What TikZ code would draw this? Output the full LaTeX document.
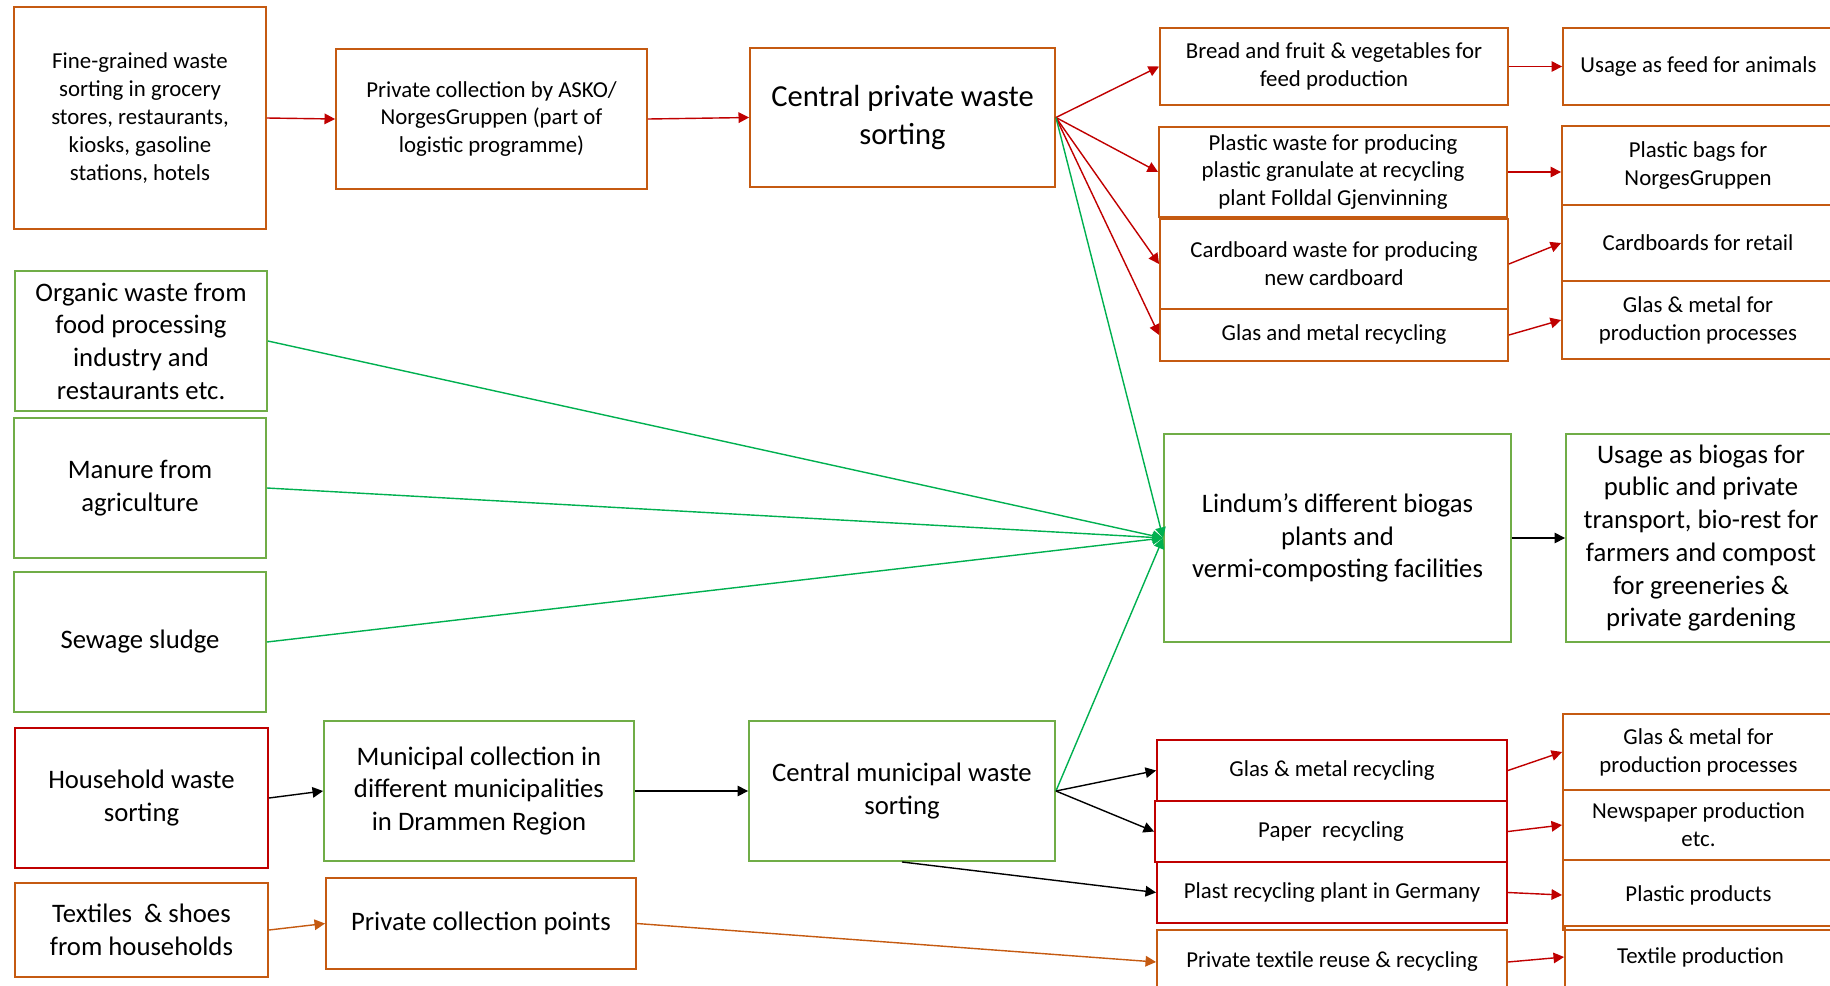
\documentclass[tikz,border=0pt]{standalone}
\usepackage{fontspec}
\setmainfont{Carlito}
\usetikzlibrary{positioning, arrows.meta}
\definecolor{boxorange}{HTML}{C55A11}
\definecolor{boxgreen}{HTML}{70AD47}
\definecolor{boxred}{HTML}{C00000}
\definecolor{flowred}{HTML}{C00000}
\definecolor{flowgreen}{HTML}{00B050}
\tikzset{
    stage/.style={
        draw,
        rectangle,
        align=center,
        line width=1.1pt,
        inner sep=2pt,
    },
    obox/.style={stage, draw=boxorange},
    gbox/.style={stage, draw=boxgreen},
    rbox/.style={stage, draw=boxred},
    txts/.style={font=\fontsize{13}{15.9}\selectfont},
    txtm/.style={font=\fontsize{15.2}{18.6}\selectfont},
    txtl/.style={font=\fontsize{17.4}{21.2}\selectfont},
    flow/.style={-{Triangle[length=6pt,width=6pt]}, line width=0.8pt},
    redflow/.style={flow, color=flowred},
    greenflow/.style={flow, color=flowgreen},
    orangeflow/.style={flow, color=boxorange},
    blackflow/.style={flow, color=black},
}

\begin{document}
\begin{tikzpicture}[x=0.02cm, y=-0.02cm]
   \useasboundingbox (0,0) rectangle (1830,985);
   \clip (0,0) rectangle (1830,985);
   \node[obox, txts, minimum width=5.04cm, minimum height=4.44cm] (fine) at (140,118) {Fine-grained waste\\sorting in grocery\\stores, restaurants,\\kiosks, gasoline\\stations, hotels};
   \node[obox, txts, minimum width=6.22cm, minimum height=2.80cm] (asko) at (491.5,119) {Private collection by ASKO/\\NorgesGruppen (part of\\logistic programme)};
   \node[obox, txtl, minimum width=6.10cm, minimum height=2.78cm] (cps) at (902.5,117.5) {Central private waste\\sorting};
   \node[obox, txts, minimum width=6.96cm, minimum height=1.54cm] (bread) at (1334,66.5) {Bread and fruit \& vegetables for\\feed production};
   \node[obox, txts, minimum width=5.42cm, minimum height=1.54cm] (feed) at (1698.5,66.5) {Usage as feed for animals};
   \node[obox, txts, minimum width=6.96cm, minimum height=1.80cm] (plwaste) at (1333,172) {Plastic waste for producing\\plastic granulate at recycling\\plant Folldal Gjenvinning};
   \node[obox, txts, minimum width=5.44cm, minimum height=1.58cm] (bags) at (1698,165.5) {Plastic bags for\\NorgesGruppen};
   \node[obox, txts, minimum width=6.96cm, minimum height=1.80cm] (cardboard) at (1334,264) {Cardboard waste for producing\\new cardboard};
   \node[obox, txts, minimum width=5.44cm, minimum height=1.52cm] (retail) at (1698,243) {Cardboards for retail};
   \node[obox, txts, minimum width=6.96cm, minimum height=1.04cm] (glasmet) at (1334,335) {Glas and metal recycling};
   \node[obox, txts, minimum width=5.44cm, minimum height=1.56cm] (glasprod) at (1698,320) {Glas \& metal for\\production processes};
   \node[gbox, txtm, minimum width=5.04cm, minimum height=2.80cm] (organic) at (141,341) {Organic waste from\\food processing\\industry and\\restaurants etc.};
   \node[gbox, txtm, minimum width=5.04cm, minimum height=2.80cm] (manure) at (140,488) {Manure from\\agriculture};
   \node[gbox, txtm, minimum width=5.04cm, minimum height=2.80cm] (sewage) at (140,642) {Sewage sludge};
   \node[gbox, txtm, minimum width=6.94cm, minimum height=4.16cm] (lindum) at (1337.5,538) {Lindum’s different biogas\\plants and\\vermi-composting facilities};
   \node[gbox, txtm, minimum width=5.40cm, minimum height=4.16cm] (biogas) at (1701,538) {Usage as biogas for\\public and private\\transport, bio-rest for\\farmers and compost\\for greeneries \&\\private gardening};
   \node[rbox, txtm, minimum width=5.06cm, minimum height=2.80cm] (household) at (141.5,798) {Household waste\\sorting};
   \node[gbox, txtm, minimum width=6.20cm, minimum height=2.80cm] (municipal) at (479,791) {Municipal collection in\\different municipalities\\in Drammen Region};
   \node[gbox, txtm, minimum width=6.12cm, minimum height=2.80cm] (cms) at (902,791) {Central municipal waste\\sorting};
   \node[rbox, txts, minimum width=7.00cm, minimum height=1.22cm] (glasmet2) at (1332,770.5) {Glas \& metal recycling};
   \node[rbox, txts, minimum width=7.04cm, minimum height=1.22cm] (paper) at (1331,831.5) {Paper\ \ recycling};
   \node[rbox, txts, minimum width=7.00cm, minimum height=1.22cm] (plast) at (1332,892.5) {Plast recycling plant in Germany};
   \node[obox, txts, minimum width=7.00cm, minimum height=1.28cm] (texreuse) at (1332,962) {Private textile reuse \& recycling};
   \node[obox, txts, minimum width=5.42cm, minimum height=1.52cm] (glasprod2) at (1698.5,752) {Glas \& metal for\\production processes};
   \node[obox, txts, minimum width=5.42cm, minimum height=1.40cm] (newspaper) at (1698.5,825) {Newspaper production\\etc.};
   \node[obox, txts, minimum width=5.42cm, minimum height=1.40cm] (plprod) at (1698.5,895) {Plastic products};
   \node[obox, txts, minimum width=5.42cm, minimum height=1.24cm] (texprod) at (1700.5,957) {Textile production};
   \node[obox, txtm, minimum width=5.06cm, minimum height=1.88cm] (textiles) at (141.5,930) {Textiles\ \ \& shoes\\from households};
   \node[obox, txtm, minimum width=6.20cm, minimum height=1.82cm] (pcp) at (481,923.5) {Private collection points};
   \draw[redflow] (fine.east) to (asko.west);
   \draw[redflow] (asko.east) to (cps.west);
   \draw[redflow] (cps.east) to (bread.west);
   \draw[redflow] (cps.east) to (plwaste.west);
   \draw[redflow] (cps.east) to (cardboard.west);
   \draw[redflow] (cps.east) to (glasmet.west);
   \draw[redflow] (bread.east) to (feed.west);
   \draw[redflow] (plwaste.east) to (plwaste.east -| bags.west);
   \draw[redflow] (cardboard.east) to (retail.west);
   \draw[redflow] (glasmet.east) to (glasprod.west);
   \draw[greenflow] (cps.east) to (lindum.west);
   \draw[greenflow] (organic.east) to (lindum.west);
   \draw[greenflow] (manure.east) to (lindum.west);
   \draw[greenflow] (sewage.east) to (lindum.west);
   \draw[greenflow] (cms.east) to (lindum.west);
   \draw[blackflow] (lindum.east) to (biogas.west);
   \draw[blackflow] (household.east) to (municipal.west);
   \draw[blackflow] (municipal.east) to (cms.west);
   \draw[blackflow] (cms.east) to (glasmet2.west);
   \draw[blackflow] (cms.east) to (paper.west);
   \draw[blackflow] (cms.south) to (plast.west);
   \draw[redflow] (glasmet2.east) to (glasprod2.west);
   \draw[redflow] (paper.east) to (newspaper.west);
   \draw[redflow] (plast.east) to (plprod.west);
   \draw[redflow] (texreuse.east) to (texprod.west);
   \draw[orangeflow] (textiles.east) to (pcp.west);
   \draw[orangeflow] (pcp.east) to (texreuse.west);
\end{tikzpicture}
\end{document}
